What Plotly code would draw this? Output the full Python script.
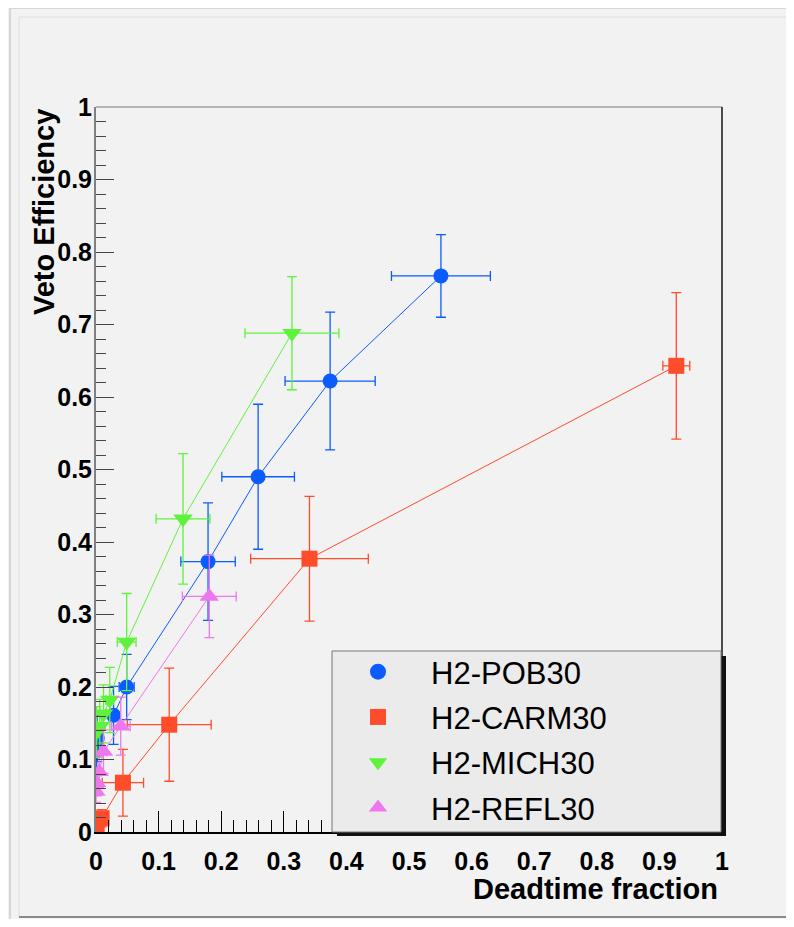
import plotly.graph_objects as go

# ---------------- data ----------------
pob_x = [0.001, 0.002, 0.028, 0.049, 0.179, 0.259, 0.374, 0.551]
pob_y = [0.113, 0.129, 0.161, 0.200, 0.373, 0.490, 0.622, 0.767]
pob_ex = [0.003, 0.004, 0.008, 0.012, 0.0435, 0.058, 0.072, 0.079]
pob_ey = [0.030, 0.032, 0.040, 0.045, 0.081, 0.100, 0.095, 0.057]

carm_x = [0.001, 0.009, 0.043, 0.117, 0.341, 0.927]
carm_y = [0.008, 0.019, 0.068, 0.148, 0.377, 0.643]
carm_ex = [0.002, 0.003, 0.033, 0.067, 0.094, 0.0215]
carm_ey = [0.008, 0.012, 0.046, 0.078, 0.086, 0.101]

mich_x = [0.001, 0.006, 0.012, 0.022, 0.049, 0.139, 0.313]
mich_y = [0.138, 0.146, 0.163, 0.182, 0.262, 0.432, 0.688]
mich_ex = [0.003, 0.004, 0.005, 0.006, 0.015, 0.043, 0.075]
mich_ey = [0.035, 0.037, 0.040, 0.045, 0.067, 0.090, 0.078]

refl_x = [0.000, 0.001, 0.005, 0.012, 0.0395, 0.181]
refl_y = [0.056, 0.068, 0.083, 0.111, 0.146, 0.325]
refl_ex = [0.001, 0.002, 0.003, 0.005, 0.015, 0.043]
refl_ey = [0.015, 0.018, 0.022, 0.030, 0.040, 0.057]

names = ["H2-POB30", "H2-CARM30", "H2-MICH30", "H2-REFL30"]
colors = ["#0a5cff", "#ff4c2b", "#5ef23c", "#ee77ee"]
symbols = ["circle", "square", "triangle-down", "triangle-up"]
msizes = [15, 16, 17, 17]

series = [
    (pob_x, pob_y, pob_ex, pob_ey),
    (carm_x, carm_y, carm_ex, carm_ey),
    (mich_x, mich_y, mich_ex, mich_ey),
    (refl_x, refl_y, refl_ex, refl_ey),
]

x_ticks = [0, 0.1, 0.2, 0.3, 0.4, 0.5, 0.6, 0.7, 0.8, 0.9, 1]
y_ticks = [0, 0.1, 0.2, 0.3, 0.4, 0.5, 0.6, 0.7, 0.8, 0.9, 1]

# ---------------- layout geometry (page pixels) ----------------
OFF = 8  # page body margin offset
PW, PH = 794, 927
L, R, T, B = 96, 722, 107, 832
FIG_W, FIG_H = PW - OFF, PH - 2 * OFF


def X(px):
    return (px - L) / (R - L)


def Y(py):
    return (B - py) / (B - T)


fig = go.Figure()

for (xs, ys, ex, ey), nm, c, s, ms in zip(series, names, colors, symbols, msizes):
    fig.add_trace(go.Scatter(
        x=xs, y=ys, mode="lines+markers", name=nm, showlegend=False,
        line=dict(color=c, width=1),
        marker=dict(color=c, size=ms, symbol=s, line=dict(width=0)),
        error_x=dict(type="data", array=ex, color=c, thickness=1.3, width=5),
        error_y=dict(type="data", array=ey, color=c, thickness=1.3, width=5),
    ))

for i, (nm, c, s) in enumerate(zip(names, colors, symbols)):
    fig.add_trace(go.Scatter(
        x=[None], y=[None], mode="markers", name=nm, legendgroup="g%d" % i,
        marker=dict(color=c, size=16, symbol=s, line=dict(width=0)),
    ))

shapes = [
    # canvas borders
    dict(type="line", xref="paper", yref="paper", x0=X(10), x1=X(900), y0=Y(8), y1=Y(8),
         line=dict(color="#d6d6d6", width=2), layer="below"),
    dict(type="line", xref="paper", yref="paper", x0=X(10), x1=X(10), y0=Y(8), y1=Y(930),
         line=dict(color="#d6d6d6", width=2), layer="below"),
    dict(type="line", xref="paper", yref="paper", x0=X(19), x1=X(900), y0=Y(17), y1=Y(17),
         line=dict(color="#dedede", width=1), layer="below"),
    dict(type="line", xref="paper", yref="paper", x0=X(19), x1=X(19), y0=Y(17), y1=Y(917),
         line=dict(color="#dedede", width=1), layer="below"),
    dict(type="line", xref="paper", yref="paper", x0=X(19), x1=X(900), y0=Y(917), y1=Y(917),
         line=dict(color="#8a8a8a", width=2), layer="below"),
    # frame
    dict(type="line", xref="paper", yref="paper", x0=0, x1=1, y0=1, y1=1,
         line=dict(color="#7a7a7a", width=1), layer="above"),
    dict(type="line", xref="paper", yref="paper", x0=1, x1=1, y0=0, y1=1,
         line=dict(color="#222222", width=1.6), layer="above"),
    # legend shadow + box
    dict(type="rect", xref="paper", yref="paper", x0=X(337), x1=X(726), y0=Y(836), y1=Y(656),
         fillcolor="#111111", line=dict(width=0), layer="above"),
    dict(type="rect", xref="paper", yref="paper", x0=X(332), x1=X(721), y0=Y(832), y1=Y(651),
         fillcolor="#ebebeb", line=dict(color="#777777", width=1), layer="above"),
]

title_font = dict(family="Liberation Sans", size=29, color="black", weight="bold")
tick_font = dict(family="Liberation Sans", size=25, color="black", weight="bold")

fig.update_layout(
    width=FIG_W, height=FIG_H,
    margin=dict(l=L - OFF, r=OFF + FIG_W - R, t=T - OFF, b=OFF + FIG_H - B, pad=0),
    paper_bgcolor="#f2f2f2",
    plot_bgcolor="rgba(0,0,0,0)",
    shapes=shapes,
    showlegend=True,
    legend=dict(
        x=X(325), y=Y(645), xanchor="left", yanchor="top",
        bgcolor="rgba(0,0,0,0)", borderwidth=0,
        font=dict(family="Liberation Sans", size=31, color="black"),
        traceorder="grouped", tracegroupgap=2, itemwidth=96,
    ),
    xaxis=dict(
        range=[0, 1], tickvals=x_ticks, ticktext=[("%g" % v) for v in x_ticks],
        ticks="inside", ticklen=21, tickwidth=1.2, tickcolor="black",
        minor=dict(dtick=0.02, ticks="inside", ticklen=12, tickwidth=1, tickcolor="black"),
        showgrid=False, zeroline=False, showline=True, linecolor="black", linewidth=2,
        tickfont=tick_font, ticklabelstandoff=6,
    ),
    yaxis=dict(
        range=[0, 1], tickvals=y_ticks, ticktext=[("%g" % v) for v in y_ticks],
        ticks="inside", ticklen=18, tickwidth=1.2, tickcolor="#444444",
        minor=dict(dtick=0.02, ticks="inside", ticklen=10, tickwidth=1, tickcolor="#444444"),
        showgrid=False, zeroline=False, showline=True, linecolor="#808080", linewidth=2,
        tickfont=tick_font, ticklabelstandoff=-3,
    ),
    annotations=[
        dict(text="Deadtime fraction", xref="paper", yref="paper", x=X(720), y=Y(889),
             xanchor="right", yanchor="middle", showarrow=False, font=title_font),
        dict(text="Veto Efficiency", xref="paper", yref="paper", x=X(44), y=Y(212),
             xanchor="center", yanchor="middle", showarrow=False, textangle=-90, font=title_font),
    ],
)

fig.write_html("out.html")
